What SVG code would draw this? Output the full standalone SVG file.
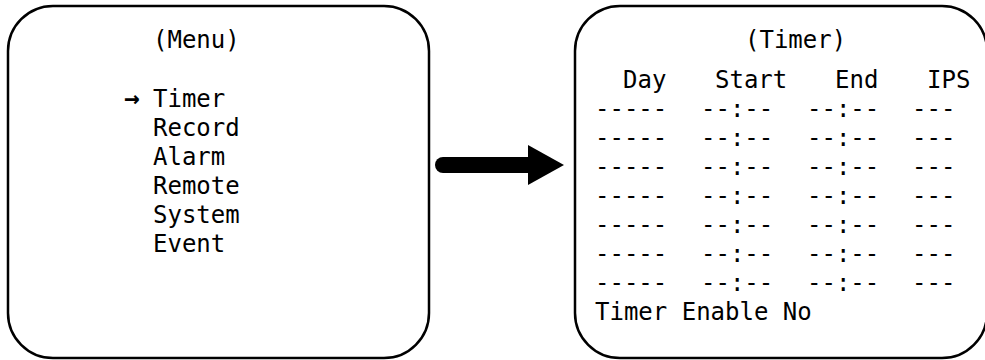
<svg xmlns="http://www.w3.org/2000/svg" width="985" height="360" viewBox="0 0 985 360">
<style>
.box{fill:#fff;stroke:#000;stroke-width:2.5}
.t{font-family:"DejaVu Sans Mono","Liberation Mono",monospace;font-size:24px;fill:#000}
</style>
<rect width="985" height="360" fill="#fff"/>
<g id="menu">
<rect class="box" x="8" y="6" width="421" height="352" rx="45" ry="45"/>
<text class="t" x="153" y="48">(Menu)</text>
<text class="t" x="124" y="107"><tspan font-weight="bold" font-size="26">→</tspan><tspan x="153">Timer</tspan></text>
<text class="t" x="153" y="136">Record</text>
<text class="t" x="153" y="165">Alarm</text>
<text class="t" x="153" y="194">Remote</text>
<text class="t" x="153" y="223">System</text>
<text class="t" x="153" y="252">Event</text>
</g>
<g id="timer">
<rect class="box" x="575" y="6" width="412" height="352" rx="45" ry="45"/>
<text class="t" x="745" y="48">(Timer)</text>
<text class="t" x="623" y="88">Day</text>
<text class="t" x="715" y="88">Start</text>
<text class="t" x="835" y="88">End</text>
<text class="t" x="927" y="88">IPS</text>
<g class="t">
<text x="595" y="117">-----</text><text x="701" y="117">--:--</text><text x="807" y="117">--:--</text><text x="912" y="117">---</text>
<text x="595" y="146">-----</text><text x="701" y="146">--:--</text><text x="807" y="146">--:--</text><text x="912" y="146">---</text>
<text x="595" y="175">-----</text><text x="701" y="175">--:--</text><text x="807" y="175">--:--</text><text x="912" y="175">---</text>
<text x="595" y="204">-----</text><text x="701" y="204">--:--</text><text x="807" y="204">--:--</text><text x="912" y="204">---</text>
<text x="595" y="233">-----</text><text x="701" y="233">--:--</text><text x="807" y="233">--:--</text><text x="912" y="233">---</text>
<text x="595" y="262">-----</text><text x="701" y="262">--:--</text><text x="807" y="262">--:--</text><text x="912" y="262">---</text>
<text x="595" y="291">-----</text><text x="701" y="291">--:--</text><text x="807" y="291">--:--</text><text x="912" y="291">---</text>
</g>
<text class="t" x="595" y="320">Timer Enable No</text>
</g>
<g id="connectors">
<line x1="443" y1="165" x2="532" y2="165" stroke="#000" stroke-width="16" stroke-linecap="round"/>
<polygon points="528,145 564,165 528,185" fill="#000"/>
</g>
</svg>
